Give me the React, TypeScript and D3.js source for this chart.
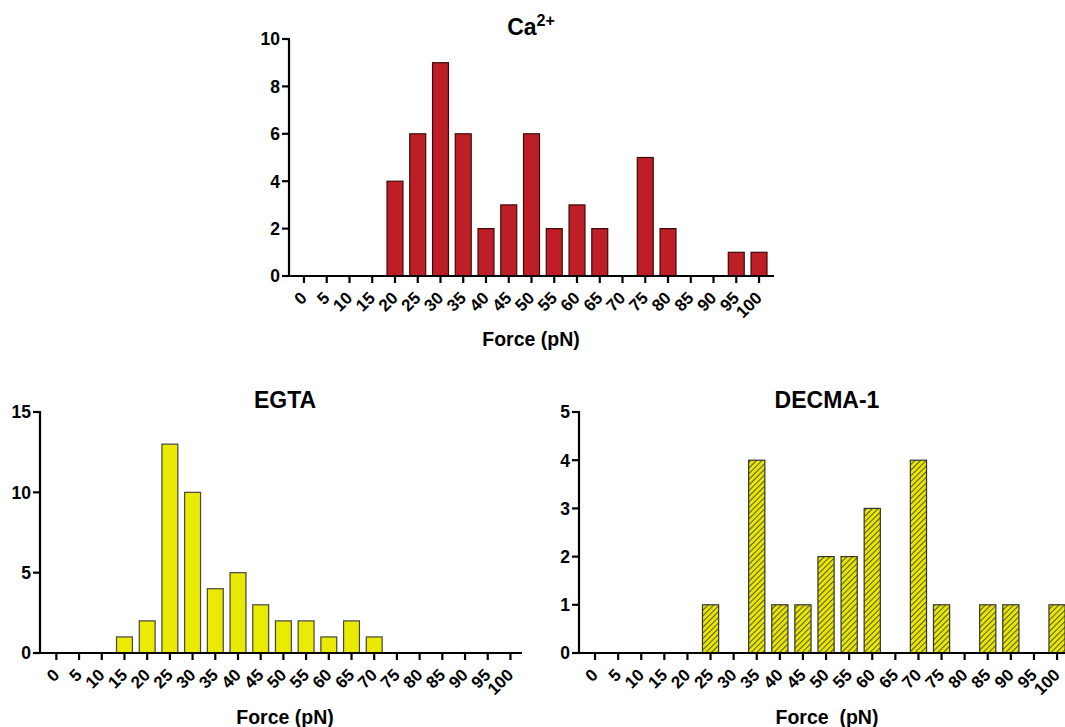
import React from "react";
import * as d3 from "d3";

const categories = ["0","5","10","15","20","25","30","35","40","45","50","55","60","65","70","75","80","85","90","95","100"];
const caValues = [0,0,0,0,4,6,9,6,2,3,6,2,3,2,0,5,2,0,0,1,1];
const egtaValues = [0,0,0,1,2,13,10,4,5,3,2,2,1,2,1,0,0,0,0,0,0];
const decmaValues = [0,0,0,0,0,1,0,4,1,1,2,2,3,0,4,1,0,1,1,0,1];
const caTicks = [0,2,4,6,8,10];
const egtaTicks = [0,5,10,15];
const decmaTicks = [0,1,2,3,4,5];

const FONT = "'Liberation Sans', Arial, sans-serif";

type HistProps = {
  values: number[];
  yTicks: number[];
  yMax: number;
  axisX: number;
  axisEnd: number;
  bandStart: number;
  bandEnd: number;
  yTop: number;
  yBottom: number;
  fill: string;
  stroke: string;
  title: React.ReactNode;
  titleX: number;
  titleY: number;
  xTitle: string;
  xTitleY: number;
};

function Histogram(p: HistProps) {
  const x = d3.scaleBand<string>().domain(categories).range([p.bandStart, p.bandEnd]).paddingInner(0.3).paddingOuter(0.15);
  const y = d3.scaleLinear().domain([0, p.yMax]).range([p.yBottom, p.yTop]);
  return (
    <g>
      {categories.map((c, i) =>
        p.values[i] > 0 ? (
          <rect key={c} x={x(c)} y={y(p.values[i])} width={x.bandwidth()} height={y(0) - y(p.values[i])}
            fill={p.fill} stroke={p.stroke} strokeWidth={1.2} />
        ) : null
      )}
      <line x1={p.axisX} x2={p.axisX} y1={y(p.yMax) - 1} y2={p.yBottom + 1} stroke="#000" strokeWidth={2.2} />
      <line x1={p.axisX - 1} x2={p.axisEnd} y1={p.yBottom} y2={p.yBottom} stroke="#000" strokeWidth={2.2} />
      {p.yTicks.map((t) => (
        <g key={t}>
          <line x1={p.axisX - 7} x2={p.axisX} y1={y(t)} y2={y(t)} stroke="#000" strokeWidth={2.2} />
          <text x={p.axisX - 9} y={y(t)} dy="0.36em" textAnchor="end" fontFamily={FONT} fontWeight="bold" fontSize={17.5}>{t}</text>
        </g>
      ))}
      {categories.map((c) => {
        const cx = (x(c) as number) + x.bandwidth() / 2;
        return (
          <g key={c}>
            <line x1={cx} x2={cx} y1={p.yBottom} y2={p.yBottom + 7} stroke="#000" strokeWidth={2.2} />
            <text transform={`translate(${cx + 4},${p.yBottom + 23}) rotate(-45)`} textAnchor="end"
              fontFamily={FONT} fontWeight="bold" fontSize={17}>{c}</text>
          </g>
        );
      })}
      <text x={p.titleX} y={p.titleY} textAnchor="middle" fontFamily={FONT} fontWeight="bold" fontSize={23}>{p.title}</text>
      <text x={p.titleX} y={p.xTitleY} textAnchor="middle" fontFamily={FONT} fontWeight="bold" fontSize={19.5} style={{ whiteSpace: "pre" }}>{p.xTitle}</text>
    </g>
  );
}

export default function App() {
  return (
    <svg width={1065} height={727} style={{ position: "absolute", left: 0, top: 0, background: "#fff" }}>
      <defs>
        <pattern id="hatch" patternUnits="userSpaceOnUse" width={4} height={4} patternTransform="rotate(45)">
          <rect width={4} height={4} fill="#e6e600" />
          <line x1={0} y1={0} x2={0} y2={4} stroke="#333" strokeWidth={1.6} />
        </pattern>
      </defs>
      <Histogram values={caValues} yTicks={caTicks} yMax={10} axisX={289} axisEnd={774}
        bandStart={292.6} bandEnd={770.4} yTop={39} yBottom={276} fill="#be1e26" stroke="#3a0a0a"
        title={<tspan>Ca<tspan dy={-9} fontSize={16}>2+</tspan></tspan>} titleX={531} titleY={35}
        xTitle="Force (pN)" xTitleY={346} />
      <Histogram values={egtaValues} yTicks={egtaTicks} yMax={15} axisX={40} axisEnd={522}
        bandStart={45} bandEnd={521.8} yTop={412} yBottom={653} fill="#eaea00" stroke="#444"
        title="EGTA" titleX={285} titleY={408} xTitle="Force (pN)" xTitleY={724} />
      <Histogram values={decmaValues} yTicks={decmaTicks} yMax={5} axisX={579} axisEnd={1066}
        bandStart={583.5} bandEnd={1068.6} yTop={412} yBottom={653} fill="url(#hatch)" stroke="#333"
        title="DECMA-1" titleX={827} titleY={408} xTitle={"Force  (pN)"} xTitleY={724} />
    </svg>
  );
}
